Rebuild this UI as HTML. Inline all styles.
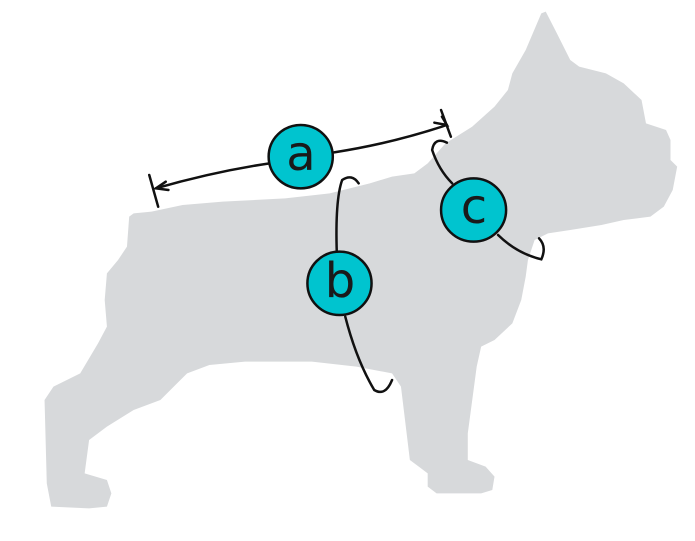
<!DOCTYPE html>
<html><head><style>html,body{margin:0;padding:0;background:#fff;overflow:hidden;width:695px;height:541px;position:relative}svg{display:block;position:absolute;left:0;top:0}.t{position:absolute;font-family:"DejaVu Sans","Liberation Sans",sans-serif;font-size:48px;color:#1a1a1a;width:60px;text-align:center;line-height:48px}</style></head>
<body>
<svg width="695" height="541" viewBox="0 0 1560 1623" preserveAspectRatio="none" xmlns="http://www.w3.org/2000/svg">
<path fill="#d7d9db" d="M290,650 L300,640 L340,635 L410,615 L500,605 L640,595 L740,580 L830,550 L880,530 L930,520 L960,490 L1000,430 L1060,380 L1110,320 L1140,270 L1150,220 L1180,150 L1215,40 L1225,35 L1250,100 L1280,180 L1300,200 L1360,220 L1400,250 L1440,300 L1450,370 L1495,390 L1505,420 L1505,480 L1520,500 L1510,570 L1490,620 L1460,650 L1400,660 L1350,675 L1280,690 L1230,700 L1200,720 L1185,780 L1180,830 L1170,900 L1150,970 L1110,1020 L1080,1040 L1070,1100 L1060,1200 L1050,1300 L1050,1380 L1090,1400 L1110,1430 L1105,1470 L1080,1480 L980,1480 L960,1460 L960,1420 L940,1400 L920,1380 L900,1160 L880,1120 L800,1100 L700,1085 L550,1085 L470,1095 L420,1120 L360,1200 L300,1230 L240,1280 L200,1320 L190,1420 L240,1440 L250,1480 L240,1520 L200,1525 L115,1520 L105,1450 L100,1200 L120,1160 L180,1120 L220,1030 L240,980 L235,900 L240,820 L265,780 L285,740 Z"/>
<g fill="none" stroke="#111" stroke-width="2.5" stroke-linecap="round" vector-effect="non-scaling-stroke">
<path vector-effect="non-scaling-stroke" d="M350,565 Q480,515 605,490"/>
<path vector-effect="non-scaling-stroke" d="M750,457 Q880,430 1003,375"/>
<path vector-effect="non-scaling-stroke" d="M335,525 L355,620"/>
<path vector-effect="non-scaling-stroke" d="M990,330 L1012,410"/>
<path vector-effect="non-scaling-stroke" d="M372,545 L350,565 L378,570"/>
<path vector-effect="non-scaling-stroke" d="M975,368 L1003,375 L992,350"/>
<path vector-effect="non-scaling-stroke" d="M805,550 Q790,520 768,540 Q752,600 756,760"/>
<path vector-effect="non-scaling-stroke" d="M775,950 Q800,1080 840,1170 Q865,1190 880,1140"/>
<path vector-effect="non-scaling-stroke" d="M1003,428 Q975,410 970,450 Q985,510 1015,550"/>
<path vector-effect="non-scaling-stroke" d="M1118,705 Q1160,760 1215,778 Q1228,740 1210,715"/>
</g>
<g fill="#00c4cf" stroke="#111" stroke-width="2.5">
<ellipse vector-effect="non-scaling-stroke" cx="675" cy="470" rx="72" ry="95"/>
<ellipse vector-effect="non-scaling-stroke" cx="762" cy="850" rx="72" ry="95"/>
<ellipse vector-effect="non-scaling-stroke" cx="1063" cy="630" rx="73" ry="95"/>
</g>
</svg>
<div class="t" style="left:271px;top:130px">a</div>
<div class="t" style="left:310px;top:257px">b</div>
<div class="t" style="left:444px;top:183px">c</div>
</body></html>
